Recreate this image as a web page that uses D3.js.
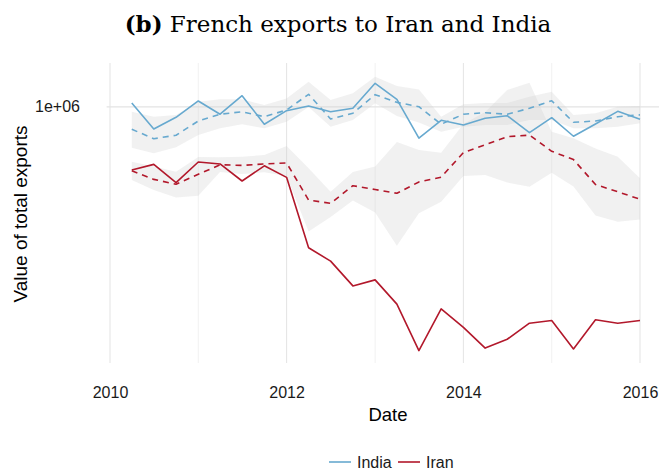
<!DOCTYPE html>
<html>
<head>
<meta charset="utf-8">
<script src="https://cdn.jsdelivr.net/npm/d3@7"></script>
<style>
  body { margin: 0; background: #fff; }
  text { font-family: "Liberation Sans", Arial, sans-serif; }
</style>
</head>
<body>
<svg id="chart" width="659" height="475"></svg>
<script>
// Quarterly observation dates
const quarters = [
  "2010-04-01","2010-07-01","2010-10-01","2011-01-01","2011-04-01","2011-07-01",
  "2011-10-01","2012-01-01","2012-04-01","2012-07-01","2012-10-01","2013-01-01",
  "2013-04-01","2013-07-01","2013-10-01","2014-01-01","2014-04-01","2014-07-01",
  "2014-10-01","2015-01-01","2015-04-01","2015-07-01","2015-10-01","2016-01-01"
];

// India: observed exports, counterfactual, and its band
const indiaActual = [1030000, 844000, 923000, 1046000, 945000, 1089000, 875000, 971000,
  1006000, 963000, 989000, 1198000, 1059000, 786000, 902000, 870000, 916000, 934000,
  820000, 920000, 798000, 877000, 966000, 909000];
const indiaCounterfactual = [842000, 783000, 804000, 897000, 945000, 963000, 927000, 976000,
  1101000, 911000, 952000, 1098000, 1035000, 1001000, 875000, 945000, 956000, 945000,
  989000, 1048000, 888000, 897000, 927000, 940000];
const indiaLow = [731000, 700000, 733000, 805000, 848000, 875000, 848000, 892000,
  999000, 859000, 904000, 1027000, 932000, 887000, 826000, 859000, 870000, 870000,
  904000, 904000, 848000, 848000, 859000, 881000];
const indiaHigh = [963000, 927000, 940000, 1040000, 1059000, 1059000, 1014000, 1067000,
  1213000, 1054000, 1110000, 1260000, 1173000, 1143000, 927000, 1020000, 1030000, 1030000,
  1081000, 1123000, 940000, 952000, 1001000, 1006000];

// Iran: observed exports, counterfactual, and its band
const iranActual = [616000, 643000, 559000, 655000, 645000, 566000, 636000, 582000,
  339000, 306000, 253000, 265000, 220000, 154000, 212000, 184000, 157000, 168000,
  190000, 194000, 156000, 195000, 190000, 194000];
const iranCounterfactual = [612000, 573000, 552000, 596000, 641000, 638000, 645000, 650000,
  489000, 477000, 546000, 530000, 515000, 562000, 583000, 704000, 747000, 795000,
  805000, 711000, 667000, 551000, 521000, 492000];
const iranLow = [570000, 528000, 499000, 505000, 606000, 597000, 605000, 588000,
  384000, 429000, 487000, 444000, 344000, 442000, 483000, 588000, 593000, 559000,
  542000, 603000, 543000, 434000, 414000, 421000];
const iranHigh = [656000, 632000, 608000, 680000, 679000, 682000, 691000, 740000,
  624000, 521000, 606000, 632000, 763000, 718000, 703000, 877000, 961000, 1138000,
  1204000, 826000, 786000, 727000, 682000, 578000];

// Axis labels and breaks
const xMajorYears = [2010, 2012, 2014, 2016];
const xMinorYears = [2011, 2013, 2015];
const yTickValues = [1e6];
const titleBold = "(b)";
const titleText = " French exports to Iran and India";
const xTitle = "Date";
const yTitle = "Value of total exports";
const seriesNames = ["India", "Iran"];
const seriesColors = ["#67a9cf", "#b2182b"];

const parse = d3.utcParse("%Y-%m-%d");
const dates = quarters.map(parse);

const svg = d3.select("#chart");
const panel = { left: 106.6, right: 665.4, top: 63, bottom: 363 };

const x = d3.scaleUtc()
  .domain([new Date(Date.UTC(2010, 0, 1)), new Date(Date.UTC(2016, 0, 1))])
  .range([110, 640]);
const y = d3.scaleLog()
  .domain([1.4e5, 1.4e6])
  .range([panel.bottom, panel.top]);

const yearDate = yr => new Date(Date.UTC(yr, 0, 1));

// Grid
const grid = svg.append("g");
grid.selectAll("line.minor").data(xMinorYears).join("line")
  .attr("x1", d => x(yearDate(d))).attr("x2", d => x(yearDate(d)))
  .attr("y1", panel.top).attr("y2", panel.bottom)
  .attr("stroke", "#f1f1f1").attr("stroke-width", 1);
grid.selectAll("line.major").data(xMajorYears).join("line")
  .attr("x1", d => x(yearDate(d))).attr("x2", d => x(yearDate(d)))
  .attr("y1", panel.top).attr("y2", panel.bottom)
  .attr("stroke", "#e6e6e6").attr("stroke-width", 1.1);
grid.selectAll("line.h").data(yTickValues).join("line")
  .attr("x1", panel.left).attr("x2", 659)
  .attr("y1", d => y(d)).attr("y2", d => y(d))
  .attr("stroke", "#e3e3e3").attr("stroke-width", 1.1);

// Bands
const band = (lo, hi) => d3.area()
  .x((d, i) => x(dates[i]))
  .y0((d, i) => y(lo[i]))
  .y1((d, i) => y(hi[i]))(dates);

svg.append("path").attr("d", band(indiaLow, indiaHigh))
  .attr("fill", "#cccccc").attr("fill-opacity", 0.28);
svg.append("path").attr("d", band(iranLow, iranHigh))
  .attr("fill", "#cccccc").attr("fill-opacity", 0.28);

// Lines
const line = vals => d3.line()
  .x((d, i) => x(dates[i]))
  .y((d, i) => y(vals[i]))(dates);

const series = [
  { vals: indiaCounterfactual, color: seriesColors[0], dash: "6,5" },
  { vals: iranCounterfactual, color: seriesColors[1], dash: "6,5" },
  { vals: indiaActual, color: seriesColors[0], dash: null },
  { vals: iranActual, color: seriesColors[1], dash: null }
];
series.forEach(s => {
  svg.append("path").attr("d", line(s.vals))
    .attr("fill", "none").attr("stroke", s.color)
    .attr("stroke-width", 1.6)
    .attr("stroke-linejoin", "round")
    .attr("stroke-dasharray", s.dash);
});

// Axis labels
const xAxis = d3.axisBottom(x)
  .tickValues(xMajorYears.map(yearDate))
  .tickFormat(d3.utcFormat("%Y"))
  .tickSize(0).tickPadding(0);
const gx = svg.append("g").attr("transform", "translate(0,392)").call(xAxis);
gx.select(".domain").remove();
gx.selectAll("text").attr("font-size", 16).attr("fill", "#1a1a1a")
  .attr("font-family", "Liberation Sans, Arial, sans-serif").attr("dy", "0.71em").attr("y", -5);

const yAxis = d3.axisLeft(y)
  .tickValues(yTickValues)
  .tickFormat(d => d.toExponential(0).replace("e+", "e+0"))
  .tickSize(0).tickPadding(0);
const gy = svg.append("g").attr("transform", "translate(80,0)").call(yAxis);
gy.select(".domain").remove();
gy.selectAll("text").attr("font-size", 16).attr("fill", "#1a1a1a")
  .attr("font-family", "Liberation Sans, Arial, sans-serif");

// Axis titles
svg.append("text").attr("x", 388).attr("y", 421)
  .attr("text-anchor", "middle").attr("font-size", 18.5).attr("fill", "#000")
  .text(xTitle);
svg.append("text")
  .attr("transform", "translate(27,214) rotate(-90)")
  .attr("text-anchor", "middle").attr("font-size", 19).attr("fill", "#000")
  .text(yTitle);

// Title
const title = svg.append("text").attr("x", 338).attr("y", 32)
  .attr("text-anchor", "middle")
  .style("font-family", "'DejaVu Serif', serif").attr("font-size", 23).attr("fill", "#000");
title.append("tspan").attr("font-weight", "bold").text(titleBold);
title.append("tspan").text(titleText);

// Legend
const legend = svg.append("g").attr("transform", "translate(329,462)");
const items = [
  { name: seriesNames[0], color: seriesColors[0], offset: 0 },
  { name: seriesNames[1], color: seriesColors[1], offset: 69 }
];
items.forEach(it => {
  const g = legend.append("g").attr("transform", `translate(${it.offset},0)`);
  g.append("line").attr("x1", 0).attr("x2", 22).attr("y1", 0).attr("y2", 0)
    .attr("stroke", it.color).attr("stroke-width", 1.6);
  g.append("text").attr("x", 28).attr("y", 0).attr("dy", "0.35em")
    .attr("font-size", 16).attr("fill", "#1a1a1a").text(it.name);
});
</script>
</body>
</html>
